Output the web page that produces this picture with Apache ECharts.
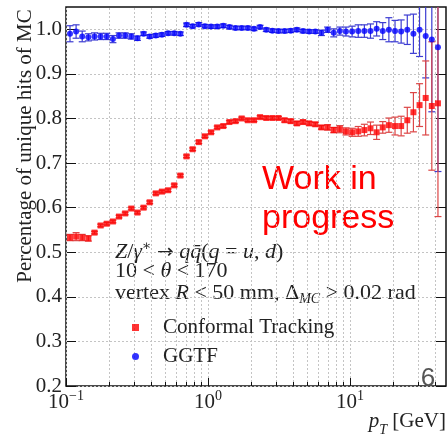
<!DOCTYPE html>
<html>
<head>
<meta charset="utf-8">
<script src="https://cdn.jsdelivr.net/npm/echarts@6/dist/echarts.min.js"></script>
<style>
html,body{margin:0;padding:0;background:#fff;}
#c{width:448px;height:438px;}
</style>
</head>
<body>
<div id="c"></div>
<script>
// ---- data ----
const pT = [0.1067,0.1178,0.1301,0.1437,0.1588,0.1754,0.1937,0.2140,0.2363,0.2611,
  0.2884,0.3185,0.3518,0.3886,0.4293,0.4742,0.5238,0.5786,0.6391,0.7060,
  0.7798,0.8614,0.9515,1.051,1.161,1.282,1.416,1.565,1.728,1.909,
  2.109,2.329,2.573,2.842,3.140,3.467,3.830,4.231,4.674,5.163,
  5.702,6.299,6.958,7.686,8.490,9.376,10.36,11.44,12.64,13.96,
  15.42,17.03,18.81,20.78,22.95,25.35,28.00,30.93,34.17,37.74,41.69];

const conformal = [0.533,0.535,0.533,0.531,0.544,0.560,0.564,0.569,0.580,0.587,
  0.598,0.589,0.600,0.612,0.632,0.636,0.639,0.650,0.672,0.715,
  0.731,0.747,0.760,0.769,0.780,0.783,0.792,0.794,0.800,0.796,
  0.796,0.803,0.801,0.801,0.801,0.796,0.794,0.789,0.792,0.789,
  0.787,0.780,0.780,0.774,0.776,0.771,0.769,0.771,0.774,0.778,
  0.769,0.780,0.785,0.783,0.783,0.796,0.814,0.830,0.846,0.828,0.834];
const conformalErr = [0.007,0.009,0.007,0.006,0.003,0.003,0.003,0.003,0.003,0.003,
  0.003,0.003,0.003,0.003,0.003,0.003,0.003,0.003,0.003,0.003,
  0.003,0.003,0.003,0.003,0.003,0.003,0.003,0.003,0.003,0.003,
  0.003,0.003,0.003,0.003,0.003,0.004,0.004,0.004,0.004,0.004,
  0.004,0.004,0.006,0.006,0.008,0.008,0.009,0.011,0.013,0.014,
  0.016,0.013,0.016,0.020,0.022,0.029,0.044,0.048,0.083,0.144,0.254];

const ggtf = [0.990,0.995,0.984,0.982,0.984,0.984,0.984,0.978,0.986,0.986,
  0.984,0.980,0.990,0.984,0.986,0.988,0.991,0.991,0.990,1.010,
  1.007,1.011,1.007,1.006,1.006,1.008,1.005,1.003,1.003,1.003,
  1.001,1.005,0.999,0.997,0.996,0.996,0.997,0.999,0.996,0.995,
  0.995,0.992,0.999,0.992,0.996,0.995,0.995,0.996,0.996,0.996,
  1.001,0.996,0.999,0.996,0.995,0.999,0.990,0.999,0.985,0.977,0.960];
const ggtfErr = [0.018,0.015,0.012,0.008,0.008,0.007,0.007,0.008,0.006,0.006,
  0.006,0.005,0.004,0.004,0.004,0.004,0.004,0.004,0.004,0.004,
  0.004,0.004,0.004,0.004,0.004,0.004,0.004,0.004,0.004,0.004,
  0.004,0.004,0.004,0.004,0.004,0.004,0.004,0.004,0.004,0.004,
  0.004,0.006,0.006,0.009,0.009,0.010,0.012,0.014,0.014,0.016,
  0.016,0.019,0.027,0.024,0.026,0.033,0.044,0.060,0.094,0.162,0.279];

const xMajorTicks = [0.1, 1, 10];
const xMinorTicks = [0.2,0.3,0.4,0.5,0.6,0.7,0.8,0.9,2,3,4,5,6,7,8,9,20,30,40];
const yTicks = [0.2,0.3,0.4,0.5,0.6,0.7,0.8,0.9,1.0];
const xMin = 0.1, xMax = 47.5, yMin = 0.2, yMax = 1.05;
const seriesNames = ['Conformal Tracking', 'GGTF'];

// ---- chart ----
const SERIF = '"Liberation Serif", "DejaVu Serif", serif';
const SANS = '"Liberation Sans", Arial, sans-serif';
const GRIDC = '#c4c4c4';
const chart = echarts.init(document.getElementById('c'), null, {renderer: 'canvas'});

function errRender(color) {
  return function (params, api) {
    const x = api.value(0), y = api.value(1), e = api.value(2);
    const top = api.coord([x, y + e]);
    const bot = api.coord([x, y - e]);
    const hw = 3.5;
    const st = {stroke: color, lineWidth: 1.2};
    return {
      type: 'group',
      children: [
        {type: 'line', shape: {x1: top[0], y1: top[1], x2: bot[0], y2: bot[1]}, style: st},
        {type: 'line', shape: {x1: top[0] - hw, y1: top[1], x2: top[0] + hw, y2: top[1]}, style: st},
        {type: 'line', shape: {x1: bot[0] - hw, y1: bot[1], x2: bot[0] + hw, y2: bot[1]}, style: st}
      ]
    };
  };
}

// vertical grid lines + bottom ticks drawn through the x scale
function vRender(params, api) {
  const v = api.value(0), major = api.value(1);
  const b = api.coord([v, yMin]);
  const t = api.coord([v, yMax]);
  const xx = Math.round(b[0]) + 0.5;
  const len = major ? 8 : 4;
  return {
    type: 'group',
    children: [
      {type: 'line', shape: {x1: xx, y1: b[1], x2: xx, y2: t[1]}, style: {stroke: GRIDC, lineWidth: 1, lineDash: [2, 2]}},
      {type: 'line', shape: {x1: xx, y1: b[1], x2: xx, y2: b[1] - len}, style: {stroke: '#111', lineWidth: 1}}
    ]
  };
}
const vData = xMajorTicks.map(v => [v, 1]).concat(xMinorTicks.map(v => [v, 0]));

const option = {
  animation: false,
  backgroundColor: '#fff',
  grid: {left: 66, right: 2, top: 7, bottom: 52, show: true, borderColor: '#111', borderWidth: 1.5, backgroundColor: 'transparent'},
  xAxis: [
    {
      type: 'log', logBase: 10, min: xMin, max: xMax, position: 'bottom',
      axisLine: {show: false},
      axisTick: {show: false},
      axisLabel: {
        show: true, margin: 3, customValues: xMajorTicks,
        formatter: function (v) {
          const p = Math.round(Math.log10(v));
          return '{b|10}{s|' + (p < 0 ? '\u2212' + (-p) : p) + '}';
        },
        rich: {
          b: {fontFamily: SERIF, fontSize: 21, color: '#222', lineHeight: 24, verticalAlign: 'bottom'},
          s: {fontFamily: SERIF, fontSize: 14, color: '#222', lineHeight: 24, verticalAlign: 'top'}
        }
      },
      splitLine: {show: false}
    }
  ],
  yAxis: [
    {
      type: 'value', min: yMin, max: yMax, interval: 0.1, position: 'left',
      axisLine: {show: false},
      axisTick: {show: true, inside: true, length: 10, customValues: yTicks, lineStyle: {color: '#111', width: 1}},
      axisLabel: {
        show: true, customValues: yTicks, margin: 4,
        fontFamily: SERIF, fontSize: 21, color: '#222',
        formatter: function (v) { return v.toFixed(1); }
      },
      splitLine: {show: true, lineStyle: {color: GRIDC, width: 1, type: [2, 2]}}
    },
    {
      type: 'value', min: yMin, max: yMax, interval: 0.1, position: 'right',
      axisLine: {show: false},
      axisTick: {show: true, inside: true, length: 10, customValues: yTicks, lineStyle: {color: '#111', width: 1}},
      axisLabel: {show: false},
      splitLine: {show: false}
    }
  ],
  legend: {
    data: seriesNames,
    orient: 'vertical',
    left: 127, top: 312,
    itemWidth: 7, itemHeight: 7, itemGap: 8,
    formatter: function (n) { return '{sp|}' + n; },
    textStyle: {
      fontFamily: SERIF, fontSize: 21, color: '#222', lineHeight: 21,
      rich: {sp: {width: 19}}
    }
  },
  series: [
    {
      type: 'custom', name: 'xgrid', coordinateSystem: 'cartesian2d', xAxisIndex: 0, yAxisIndex: 0,
      renderItem: vRender,
      encode: {x: 0},
      dimensions: ['x', 'major'],
      data: vData,
      z: 2
    },
    {
      type: 'custom', name: 'GGTF err', xAxisIndex: 0, yAxisIndex: 0, clip: true,
      renderItem: errRender('#3c3cd2'),
      encode: {x: 0, y: 1},
      data: pT.map((x, i) => [x, ggtf[i], ggtfErr[i]]),
      z: 3
    },
    {
      type: 'custom', name: 'CT err', xAxisIndex: 0, yAxisIndex: 0, clip: true,
      renderItem: errRender('#dc4646'),
      encode: {x: 0, y: 1},
      data: pT.map((x, i) => [x, conformal[i], conformalErr[i]]),
      z: 3
    },
    {
      type: 'scatter', name: 'GGTF', symbol: 'circle', symbolSize: 6,
      itemStyle: {color: '#0000ff'},
      data: pT.map((x, i) => [x, ggtf[i]]),
      z: 4
    },
    {
      type: 'scatter', name: 'Conformal Tracking', symbol: 'rect', symbolSize: 6,
      itemStyle: {color: '#ff0000'},
      data: pT.map((x, i) => [x, conformal[i]]),
      z: 5
    }
  ],
  graphic: [
    {
      type: 'text', x: 25, y: 146, rotation: Math.PI / 2,
      style: {text: 'Percentage of unique hits of MC', fontFamily: SERIF, fontSize: 21, fill: '#222', align: 'center', verticalAlign: 'middle'}
    },
    {
      type: 'text', x: 446, y: 424,
      style: {
        text: '{i|p}{sub|T}{r| [GeV]}', align: 'right', verticalAlign: 'middle',
        rich: {
          i: {fontFamily: SERIF, fontStyle: 'italic', fontSize: 21, fill: '#222', lineHeight: 26, verticalAlign: 'top'},
          sub: {fontFamily: SERIF, fontStyle: 'italic', fontSize: 14, fill: '#222', lineHeight: 26, verticalAlign: 'bottom'},
          r: {fontFamily: SERIF, fontSize: 21, fill: '#222', lineHeight: 26, verticalAlign: 'top'}
        }
      }
    },
    {
      type: 'text', x: 262, y: 163,
      style: {text: 'Work in', fontFamily: SANS, fontSize: 34, fill: '#ff0000', align: 'left', verticalAlign: 'top'}
    },
    {
      type: 'text', x: 262, y: 202,
      style: {text: 'progress', fontFamily: SANS, fontSize: 34, fill: '#ff0000', align: 'left', verticalAlign: 'top'}
    },
    {
      type: 'text', x: 115, y: 251,
      style: {
        text: '{i|Z}{r|/}{i|\u03b3}{sup|\u2217}{r| }{ar|\u2192}{r| }{i|q}{i|q\u0304}{r|(}{i|q}{r| = }{i|u}{r|, }{i|d}{r|)}',
        verticalAlign: 'middle',
        rich: {
          i: {fontFamily: SERIF, fontStyle: 'italic', fontSize: 22, fill: '#222', lineHeight: 24, verticalAlign: 'bottom'},
          r: {fontFamily: SERIF, fontSize: 22, fill: '#222', lineHeight: 24, verticalAlign: 'bottom'},
          ar: {fontFamily: '"DejaVu Sans", sans-serif', fontSize: 20, fill: '#222', lineHeight: 24, verticalAlign: 'bottom'},
          sup: {fontFamily: SERIF, fontSize: 14, fill: '#222', lineHeight: 24, verticalAlign: 'top'}
        }
      }
    },
    {
      type: 'text', x: 115, y: 271,
      style: {
        text: '{r|10 < }{i|\u03b8}{r| < 170}',
        verticalAlign: 'middle',
        rich: {
          i: {fontFamily: SERIF, fontStyle: 'italic', fontSize: 22, fill: '#222'},
          r: {fontFamily: SERIF, fontSize: 22, fill: '#222'}
        }
      }
    },
    {
      type: 'text', x: 115, y: 294,
      style: {
        text: '{r|vertex }{i|R}{r| < 50 mm, \u0394}{sub|MC}{r| > 0.02 rad}',
        verticalAlign: 'middle',
        rich: {
          i: {fontFamily: SERIF, fontStyle: 'italic', fontSize: 22, fill: '#222', lineHeight: 24, verticalAlign: 'top'},
          r: {fontFamily: SERIF, fontSize: 22, fill: '#222', lineHeight: 24, verticalAlign: 'top'},
          sub: {fontFamily: SERIF, fontStyle: 'italic', fontSize: 14, fill: '#222', lineHeight: 24, verticalAlign: 'bottom'}
        }
      }
    },
    {
      type: 'text', x: 428, y: 366,
      style: {text: '6', fontFamily: SANS, fontSize: 26, fill: '#555', align: 'center', verticalAlign: 'top'}
    }
  ]
};
chart.setOption(option);
</script>
</body>
</html>
